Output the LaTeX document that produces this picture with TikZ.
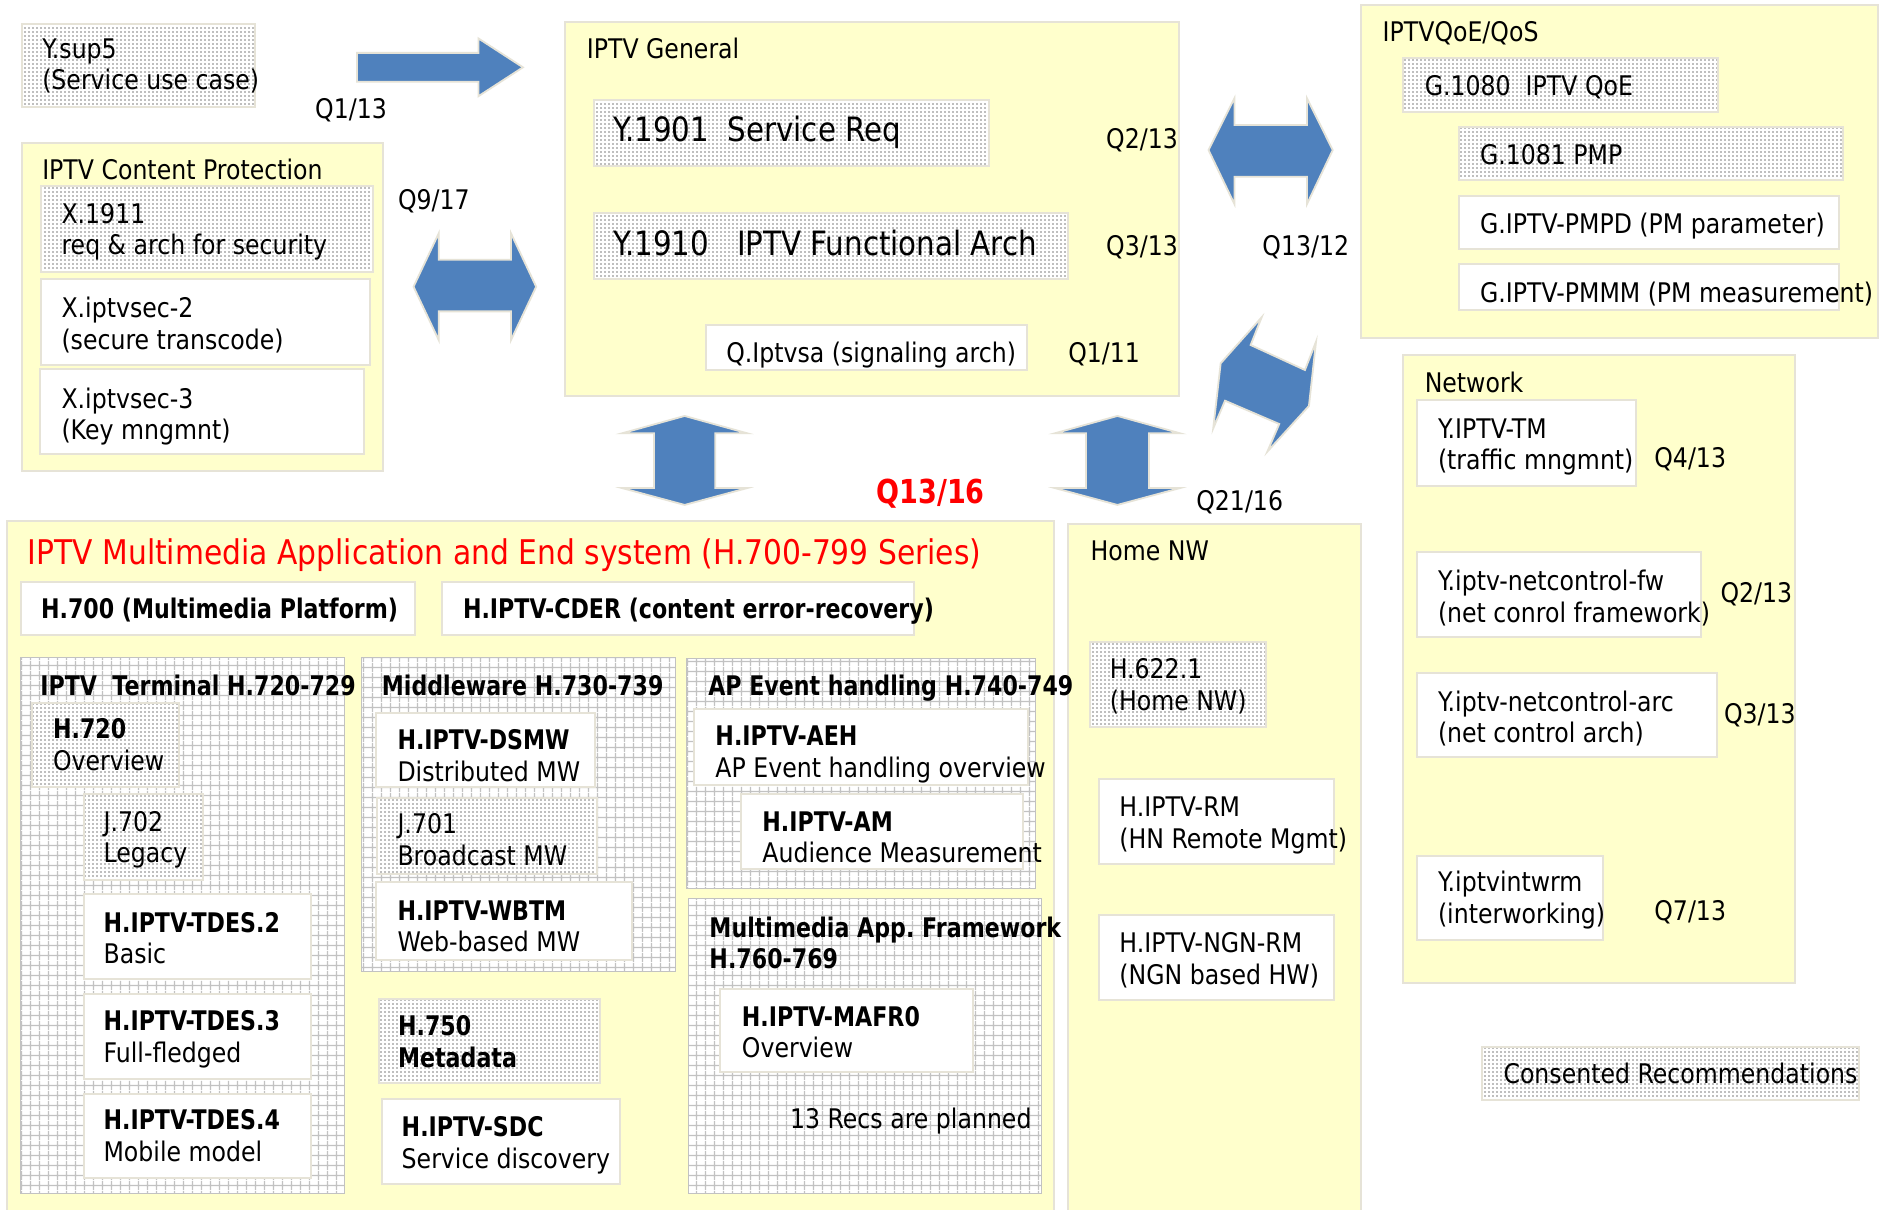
\documentclass[tikz,border=0pt]{standalone}
\usepackage{fontspec}
\setmainfont[FakeStretch=0.875,BoldFeatures={FakeStretch=0.82}]{DejaVu Sans}
\usetikzlibrary{patterns,fit}
\frenchspacing

\definecolor{paleyellow}{HTML}{FFFFCC}
\definecolor{rimgray}{HTML}{E6E3D7}
\definecolor{arrowblue}{HTML}{4F81BD}
\definecolor{gridgray}{HTML}{C2C2C2}
\definecolor{dotgray}{HTML}{7E7E7E}
\definecolor{alertred}{HTML}{FF0000}

% fine dot screen for consented recommendations
\pgfdeclarepatternformonly{dotfill}{\pgfqpoint{0pt}{0pt}}{\pgfqpoint{4pt}{4pt}}{\pgfqpoint{4pt}{4pt}}%
{\pgfpathcircle{\pgfqpoint{2pt}{2pt}}{0.9pt}\pgfusepath{fill}}
% square mesh for the H.7xx series groups
\pgfdeclarepatternformonly{gridfill}{\pgfqpoint{0pt}{0pt}}{\pgfqpoint{9pt}{9.5pt}}{\pgfqpoint{9pt}{9.5pt}}%
{\pgfsetlinewidth{1.3pt}%
 \pgfpathmoveto{\pgfqpoint{4.5pt}{0pt}}\pgfpathlineto{\pgfqpoint{4.5pt}{9.5pt}}%
 \pgfpathmoveto{\pgfqpoint{0pt}{4.75pt}}\pgfpathlineto{\pgfqpoint{9pt}{4.75pt}}%
 \pgfusepath{stroke}}

\newcommand\bodyfont{\fontsize{27pt}{31.6pt}\selectfont}
\newcommand\bigfont{\fontsize{33.5pt}{38pt}\selectfont}
\newcommand\twoline[2]{\vtop{\baselineskip=31.6pt\hbox{#1}\hbox{#2}}}

\tikzset{
  x=1.2022pt, y=-1.2022pt,
  grp/.style={fill=paleyellow, draw=rimgray, line width=2pt, inner sep=0pt},
  wbox/.style={fill=white, draw=rimgray, line width=2pt, inner sep=0pt},
  dbox/.style={preaction={fill=white}, pattern=dotfill, pattern color=dotgray,
    draw=rimgray, line width=2pt, inner sep=0pt},
  gbox/.style={preaction={fill=white}, pattern=gridfill, pattern color=gridgray,
    draw=gridgray, line width=1pt, inner sep=0pt},
  txt/.style={anchor=base west, inner sep=0pt, yshift=-1.8pt, font=\bodyfont},
  btxt/.style={anchor=base west, inner sep=0pt, yshift=-1.8pt, font=\bodyfont\bfseries},
  bigtxt/.style={anchor=base west, inner sep=0pt, yshift=-1.8pt, font=\bigfont},
  redtxt/.style={anchor=base west, inner sep=0pt, yshift=-1.8pt, text=alertred},
  blockarrow/.style={fill=arrowblue, draw=rimgray, line width=1.8pt, line join=miter},
}

\begin{document}
\begin{tikzpicture}
\fill[white] (0,0) rectangle (1568,1006);
\useasboundingbox (0,0) rectangle (1568,1006);

% ---------- group panels ----------
\node[grp, fit={(18,119)(319,392)}] (cp) {};
\node[grp, fit={(470,18)(981,329)}] (gen) {};
\node[grp, fit={(1132,4)(1562,281)}] (qoe) {};
\node[grp, fit={(1167,295)(1493,818)}] (net) {};
\node[grp, fit={(6,433)(876.7,1012)}] (mm) {};
\node[grp, fit={(888.5,436)(1132.5,1012)}] (home) {};

% ---------- mesh groups ----------
\node[gbox, fit={(16.7,547)(286.7,992.6)}] (termgrid) {};
\node[gbox, fit={(301,547)(561.5,808.5)}] (mwgrid) {};
\node[gbox, fit={(571,547.5)(861,739)}] (apgrid) {};
\node[gbox, fit={(573,747)(866,993)}] (mafgrid) {};

% ---------- recommendation boxes ----------
\node[dbox, fit={(18,20)(212,89)}] (ysup) {};
\node[dbox, fit={(34,155)(310,226)}] (x1911) {};
\node[wbox, fit={(34,232)(308,304)}] (xsec2) {};
\node[wbox, fit={(33,307)(303,378)}] (xsec3) {};

\node[dbox, fit={(494,83)(823,138)}] (y1901) {};
\node[dbox, fit={(494,177.5)(888,232)}] (y1910) {};
\node[wbox, fit={(587.5,270)(854,308)}] (qsa) {};

\node[dbox, fit={(1167,48.5)(1429,93)}] (g1080) {};
\node[dbox, fit={(1214,106)(1533,150)}] (g1081) {};
\node[wbox, fit={(1214,163)(1530,207)}] (pmpd) {};
\node[wbox, fit={(1214,220)(1530,258)}] (pmmm) {};

\node[wbox, fit={(1179,333)(1361,404)}] (tm) {};
\node[wbox, fit={(1179,459)(1415,530)}] (ncfw) {};
\node[wbox, fit={(1179,559.5)(1428,630)}] (ncarc) {};
\node[wbox, fit={(1179,712)(1333,782)}] (intw) {};

\node[dbox, fit={(1233,871)(1546,915)}] (consent) {};

\node[wbox, fit={(17.5,484)(345,528)}] (h700) {};
\node[wbox, fit={(367.6,484)(760,528)}] (cder) {};

\node[dbox, fit={(26.7,585)(148.5,655)}] (h720) {};
\node[dbox, fit={(70,660.6)(169,731.6)}] (j702) {};
\node[wbox, fit={(70,744)(259,814.6)}] (tdes2) {};
\node[wbox, fit={(70,826.7)(259,897.6)}] (tdes3) {};
\node[wbox, fit={(70,909.7)(259,979.7)}] (tdes4) {};

\node[wbox, fit={(312.7,593)(494.6,654.6)}] (dsmw) {};
\node[dbox, fit={(313.6,663.6)(497,727)}] (j701) {};
\node[wbox, fit={(312.7,734)(525.4,798.5)}] (wbtm) {};
\node[dbox, fit={(315,830.6)(499.4,900.6)}] (h750) {};
\node[wbox, fit={(317.5,914)(515.4,984.5)}] (sdc) {};

\node[wbox, fit={(577,589.7)(855,653)}] (aeh) {};
\node[wbox, fit={(616,660.6)(851,723)}] (am) {};
\node[wbox, fit={(599,822.7)(809,892)}] (mafr) {};

\node[dbox, fit={(906.7,533.7)(1053,604.4)}] (h622) {};
\node[wbox, fit={(914.5,647.6)(1110,718.6)}] (rm) {};
\node[wbox, fit={(914.5,761)(1110,831.8)}] (ngn) {};

% ---------- block arrows ----------
\path[blockarrow] (297,44) -- (398,44) -- (398,32) -- (435,56) -- (398,80)
  -- (398,68) -- (297,68) -- cycle;
\path[blockarrow] (344,238.5) -- (365,194) -- (365,216) -- (425,216) -- (425,194)
  -- (446,238.5) -- (425,283) -- (425,259) -- (365,259) -- (365,283) -- cycle;
\path[blockarrow] (569.5,346) -- (621.5,360.4) -- (595,360.4) -- (595,406)
  -- (621.5,406) -- (569.5,420) -- (517.5,406) -- (544,406) -- (544,360.4)
  -- (517.5,360.4) -- cycle;
\path[blockarrow] (929.5,346) -- (981.5,360.4) -- (955.7,360.4) -- (955.7,406)
  -- (981.5,406) -- (929.5,420) -- (877.5,406) -- (903.3,406) -- (903.3,360.4)
  -- (877.5,360.4) -- cycle;
\path[blockarrow] (1005.3,124.8) -- (1026.8,81.8) -- (1026.8,104) -- (1087.2,104)
  -- (1087.2,81.8) -- (1108.6,124.8) -- (1087.2,169.7) -- (1087.2,147)
  -- (1026.8,147) -- (1026.8,169.7) -- cycle;
\path[blockarrow] (1015.4,302.2) -- (1049.5,263.9) -- (1040.3,287) -- (1085.5,307.8)
  -- (1094.7,284.2) -- (1088.8,337.7) -- (1054.2,375.7) -- (1064.1,352.7)
  -- (1019,333.3) -- (1009.2,356.3) -- cycle;

% ---------- question labels ----------
\node[txt] (q113) at (262,97) {Q1/13};
\node[txt] (q917) at (331,173) {Q9/17};
\node[txt] (q213a) at (920,122) {Q2/13};
\node[txt] (q313a) at (920,211) {Q3/13};
\node[txt] (q111) at (888.5,300) {Q1/11};
\node[txt] (q1312) at (1050,211) {Q13/12};
\node[txt] (q2116) at (995,423) {Q21/16};
\node[redtxt, font=\fontsize{33pt}{38pt}\selectfont\bfseries] (q1316) at (729,417) {Q13/16};
\node[txt] (q413) at (1376,387) {Q4/13};
\node[txt] (q213b) at (1431,500) {Q2/13};
\node[txt] (q313b) at (1434,600) {Q3/13};
\node[txt] (q713) at (1376,764) {Q7/13};

% ---------- panel titles ----------
\node[txt] (cpt) at (35,148) {IPTV Content Protection};
\node[txt] (gent) at (488,47) {IPTV General};
\node[txt] (qoet) at (1150,33) {IPTVQoE/QoS};
\node[txt] (nett) at (1185,325) {Network};
\node[txt] (homet) at (907,465) {Home NW};
\node[redtxt, font=\fontsize{34pt}{38pt}\selectfont] (mmt) at (23,468)
  {IPTV Multimedia Application and End system (H.700-799 Series)};
\node[btxt] (termt) at (33.4,577) {IPTV\ \ Terminal H.720-729};
\node[btxt] (mwt) at (317.5,577) {Middleware H.730-739};
\node[btxt] (apt) at (589,577) {AP Event handling H.740-749};
\node[btxt] (maft) at (590,778) {\twoline{Multimedia App. Framework}{H.760-769}};

% ---------- box texts ----------
\node[txt] (ysupt) at (35,47) {\twoline{Y.sup5}{(Service use case)}};
\node[txt] (x1911t) at (51,184) {\twoline{X.1911}{req \& arch for security}};
\node[txt] (xsec2t) at (51,263) {\twoline{X.iptvsec-2}{(secure transcode)}};
\node[txt] (xsec3t) at (51,338) {\twoline{X.iptvsec-3}{(Key mngmnt)}};

\node[bigtxt] (y1901t) at (510,116.5) {Y.1901\ \ Service Req};
\node[bigtxt] (y1910t) at (510,211) {Y.1910\ \ \ IPTV Functional Arch};
\node[txt] (qsat) at (604,300) {Q.Iptvsa (signaling arch)};

\node[txt] (g1080t) at (1185,78) {G.1080\ \ IPTV QoE};
\node[txt] (g1081t) at (1231,135) {G.1081 PMP};
\node[txt] (pmpdt) at (1231,193) {G.IPTV-PMPD (PM parameter)};
\node[txt] (pmmmt) at (1231,250) {G.IPTV-PMMM (PM measurement)};

\node[txt] (tmt) at (1196,363) {\twoline{Y.IPTV-TM}{(traffic mngmnt)}};
\node[txt] (ncfwt) at (1196,490) {\twoline{Y.iptv-netcontrol-fw}{(net conrol framework)}};
\node[txt] (ncarct) at (1196,590) {\twoline{Y.iptv-netcontrol-arc}{(net control arch)}};
\node[txt] (intwt) at (1196,740) {\twoline{Y.iptvintwrm}{(interworking)}};

\node[txt] (consentt) at (1250.5,900) {Consented Recommendations};

\node[btxt] (h700t) at (34,513) {H.700 (Multimedia Platform)};
\node[btxt] (cdert) at (385,513) {H.IPTV-CDER (content error-recovery)};

\node[txt] (h720t) at (44,613) {\twoline{\bfseries H.720}{Overview}};
\node[txt] (j702t) at (86,690) {\twoline{J.702}{Legacy}};
\node[txt] (tdes2t) at (86,774) {\twoline{\bfseries H.IPTV-TDES.2}{Basic}};
\node[txt] (tdes3t) at (86,856) {\twoline{\bfseries H.IPTV-TDES.3}{Full-fledged}};
\node[txt] (tdes4t) at (86,938) {\twoline{\bfseries H.IPTV-TDES.4}{Mobile model}};

\node[txt] (dsmwt) at (330.5,622) {\twoline{\bfseries H.IPTV-DSMW}{Distributed MW}};
\node[txt] (j701t) at (330.5,692) {\twoline{J.701}{Broadcast MW}};
\node[txt] (wbtmt) at (330.5,764) {\twoline{\bfseries H.IPTV-WBTM}{Web-based MW}};
\node[btxt] (h750t) at (331,860) {\twoline{H.750}{Metadata}};
\node[txt] (sdct) at (334,944) {\twoline{\bfseries H.IPTV-SDC}{Service discovery}};

\node[txt] (aeht) at (595,619) {\twoline{\bfseries H.IPTV-AEH}{AP Event handling overview}};
\node[txt] (amt) at (634,690) {\twoline{\bfseries H.IPTV-AM}{Audience Measurement}};
\node[txt] (mafrt) at (617,852) {\twoline{\bfseries H.IPTV-MAFR0}{Overview}};
\node[txt] (recs) at (657,937) {13 Recs are planned};

\node[txt] (h622t) at (923,563) {\twoline{H.622.1}{(Home NW)}};
\node[txt] (rmt) at (931,678) {\twoline{H.IPTV-RM}{(HN Remote Mgmt)}};
\node[txt] (ngnt) at (931,791) {\twoline{H.IPTV-NGN-RM}{(NGN based HW)}};
\end{tikzpicture}
\end{document}
